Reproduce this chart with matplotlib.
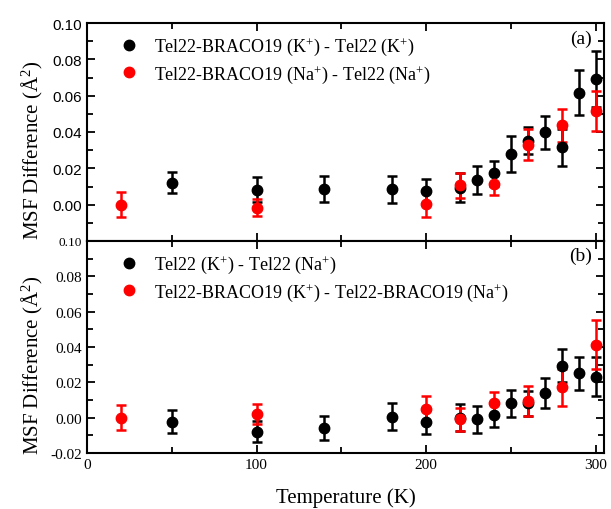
import matplotlib
matplotlib.use("Agg")
import matplotlib.pyplot as plt
from matplotlib.lines import Line2D
from matplotlib.ticker import MultipleLocator, FixedLocator

# ---------- Data ----------
# panel (a)
temp_a_k = [50, 100, 140, 180, 200, 220, 230, 240, 250, 260, 270, 280, 290, 300]
msf_a_k = [0.0121, 0.0082, 0.0088, 0.0084, 0.0073, 0.0092, 0.0134, 0.0172,
           0.0278, 0.0353, 0.0399, 0.0315, 0.0617, 0.0692]
err_a_k = [0.0057, 0.0068, 0.0071, 0.0076, 0.0066, 0.0080, 0.0077, 0.0070,
           0.0098, 0.0075, 0.0090, 0.0104, 0.0126, 0.0155]

temp_a_na = [20, 100, 200, 220, 240, 260, 280, 300]
msf_a_na = [0.0000, -0.0016, 0.0004, 0.0106, 0.0115, 0.0331, 0.0436, 0.0515]
err_a_na = [0.0070, 0.0045, 0.0070, 0.0070, 0.0062, 0.0085, 0.0090, 0.0110]

# panel (b)
temp_b_k = [50, 100, 140, 180, 200, 220, 230, 240, 250, 260, 270, 280, 290, 300]
msf_b_k = [-0.0023, -0.0080, -0.0059, 0.0006, -0.0023, 0.0000, -0.0010, 0.0017,
           0.0081, 0.0081, 0.0138, 0.0294, 0.0252, 0.0233]
err_b_k = [0.0064, 0.0060, 0.0066, 0.0077, 0.0067, 0.0078, 0.0077, 0.0070,
           0.0078, 0.0070, 0.0084, 0.0093, 0.0094, 0.0110]

temp_b_na = [20, 100, 200, 220, 240, 260, 280, 300]
msf_b_na = [0.0000, 0.0021, 0.0051, -0.0010, 0.0081, 0.0095, 0.0171, 0.0414]
err_b_na = [0.0070, 0.0058, 0.0073, 0.0067, 0.0064, 0.0087, 0.0104, 0.0140]

labels_a = [r"Tel22-BRACO19 (K$^{+}$) - Tel22 (K$^{+}$)",
            r"Tel22-BRACO19 (Na$^{+}$) - Tel22 (Na$^{+}$)"]
labels_b = [r"Tel22 (K$^{+}$) - Tel22 (Na$^{+}$)",
            r"Tel22-BRACO19 (K$^{+}$) - Tel22-BRACO19 (Na$^{+}$)"]

plt.rcParams["font.family"] = "Liberation Serif"
plt.rcParams["mathtext.fontset"] = "custom"
plt.rcParams["mathtext.rm"] = "Liberation Serif"
plt.rcParams["mathtext.it"] = "Liberation Serif:italic"

YLABEL = r"MSF Difference ($\mathrm{\AA}^{2}$)"


def draw_panel(ax, tk, yk, ek, tn, yn, en, labels, tag):
    style = dict(fmt="o", markersize=7.5, elinewidth=1.8, capsize=3.5,
                 capthick=1.8, linestyle="none")
    ax.errorbar(tk, yk, yerr=ek, color="black", **style)
    ax.errorbar(tn, yn, yerr=en, color="red", **style)
    ax.set_xlim(0, 305)
    ax.set_ylim(-0.02, 0.10)
    ax.yaxis.set_minor_locator(MultipleLocator(0.01))
    ax.xaxis.set_major_locator(MultipleLocator(100))
    ax.xaxis.set_minor_locator(MultipleLocator(50))
    ax.tick_params(which="both", direction="in", top=True, right=True,
                   width=1.3)
    ax.tick_params(which="major", length=6)
    ax.tick_params(which="minor", length=4)
    for s in ax.spines.values():
        s.set_linewidth(1.5)
    ax.set_ylabel(YLABEL, fontsize=15)
    ax.yaxis.set_label_coords(-0.082, 0.42)
    ax.text(0.955, 0.93, tag, transform=ax.transAxes, fontsize=14,
            ha="center", va="center")
    handles = [Line2D([], [], marker="o", color=c, linestyle="none",
                      markersize=7.5) for c in ("black", "red")]
    ax.legend(handles, labels, loc="upper left", frameon=False, fontsize=13,
              handletextpad=0.6, handlelength=1.6, borderaxespad=0.3,
              bbox_to_anchor=(0.028, 1.0), labelspacing=0.3)


fig = plt.figure(figsize=(6.11, 5.10), dpi=100)
ax_a = fig.add_axes([87 / 611, 1 - 242 / 510, 517 / 611, 218 / 510])
ax_b = fig.add_axes([87 / 611, 1 - 454 / 510, 517 / 611, 212 / 510])

draw_panel(ax_a, temp_a_k, msf_a_k, err_a_k, temp_a_na, msf_a_na, err_a_na,
           labels_a, "(a)")
draw_panel(ax_b, temp_b_k, msf_b_k, err_b_k, temp_b_na, msf_b_na, err_b_na,
           labels_b, "(b)")

# top panel: sans tick labels, no -0.02 label, no x labels
ax_a.yaxis.set_major_locator(FixedLocator([0.0, 0.02, 0.04, 0.06, 0.08, 0.10]))
ax_a.tick_params(labelbottom=False, labelsize=11)
for t in ax_a.get_yticklabels():
    t.set_family("Liberation Sans")

ax_b.yaxis.set_major_locator(FixedLocator([-0.02, 0.0, 0.02, 0.04, 0.06,
                                           0.08, 0.10]))
ax_b.set_yticklabels(["-0.02", "0.00", "0.02", "0.04", "0.06", "0.08", "0.10"])
ax_b.tick_params(labelsize=11)
ax_b.get_yticklabels()[-1].set_fontsize(9.5)
ax_b.set_xlabel("Temperature (K)", fontsize=15, labelpad=12)

fig.savefig("out.png", dpi=100)
